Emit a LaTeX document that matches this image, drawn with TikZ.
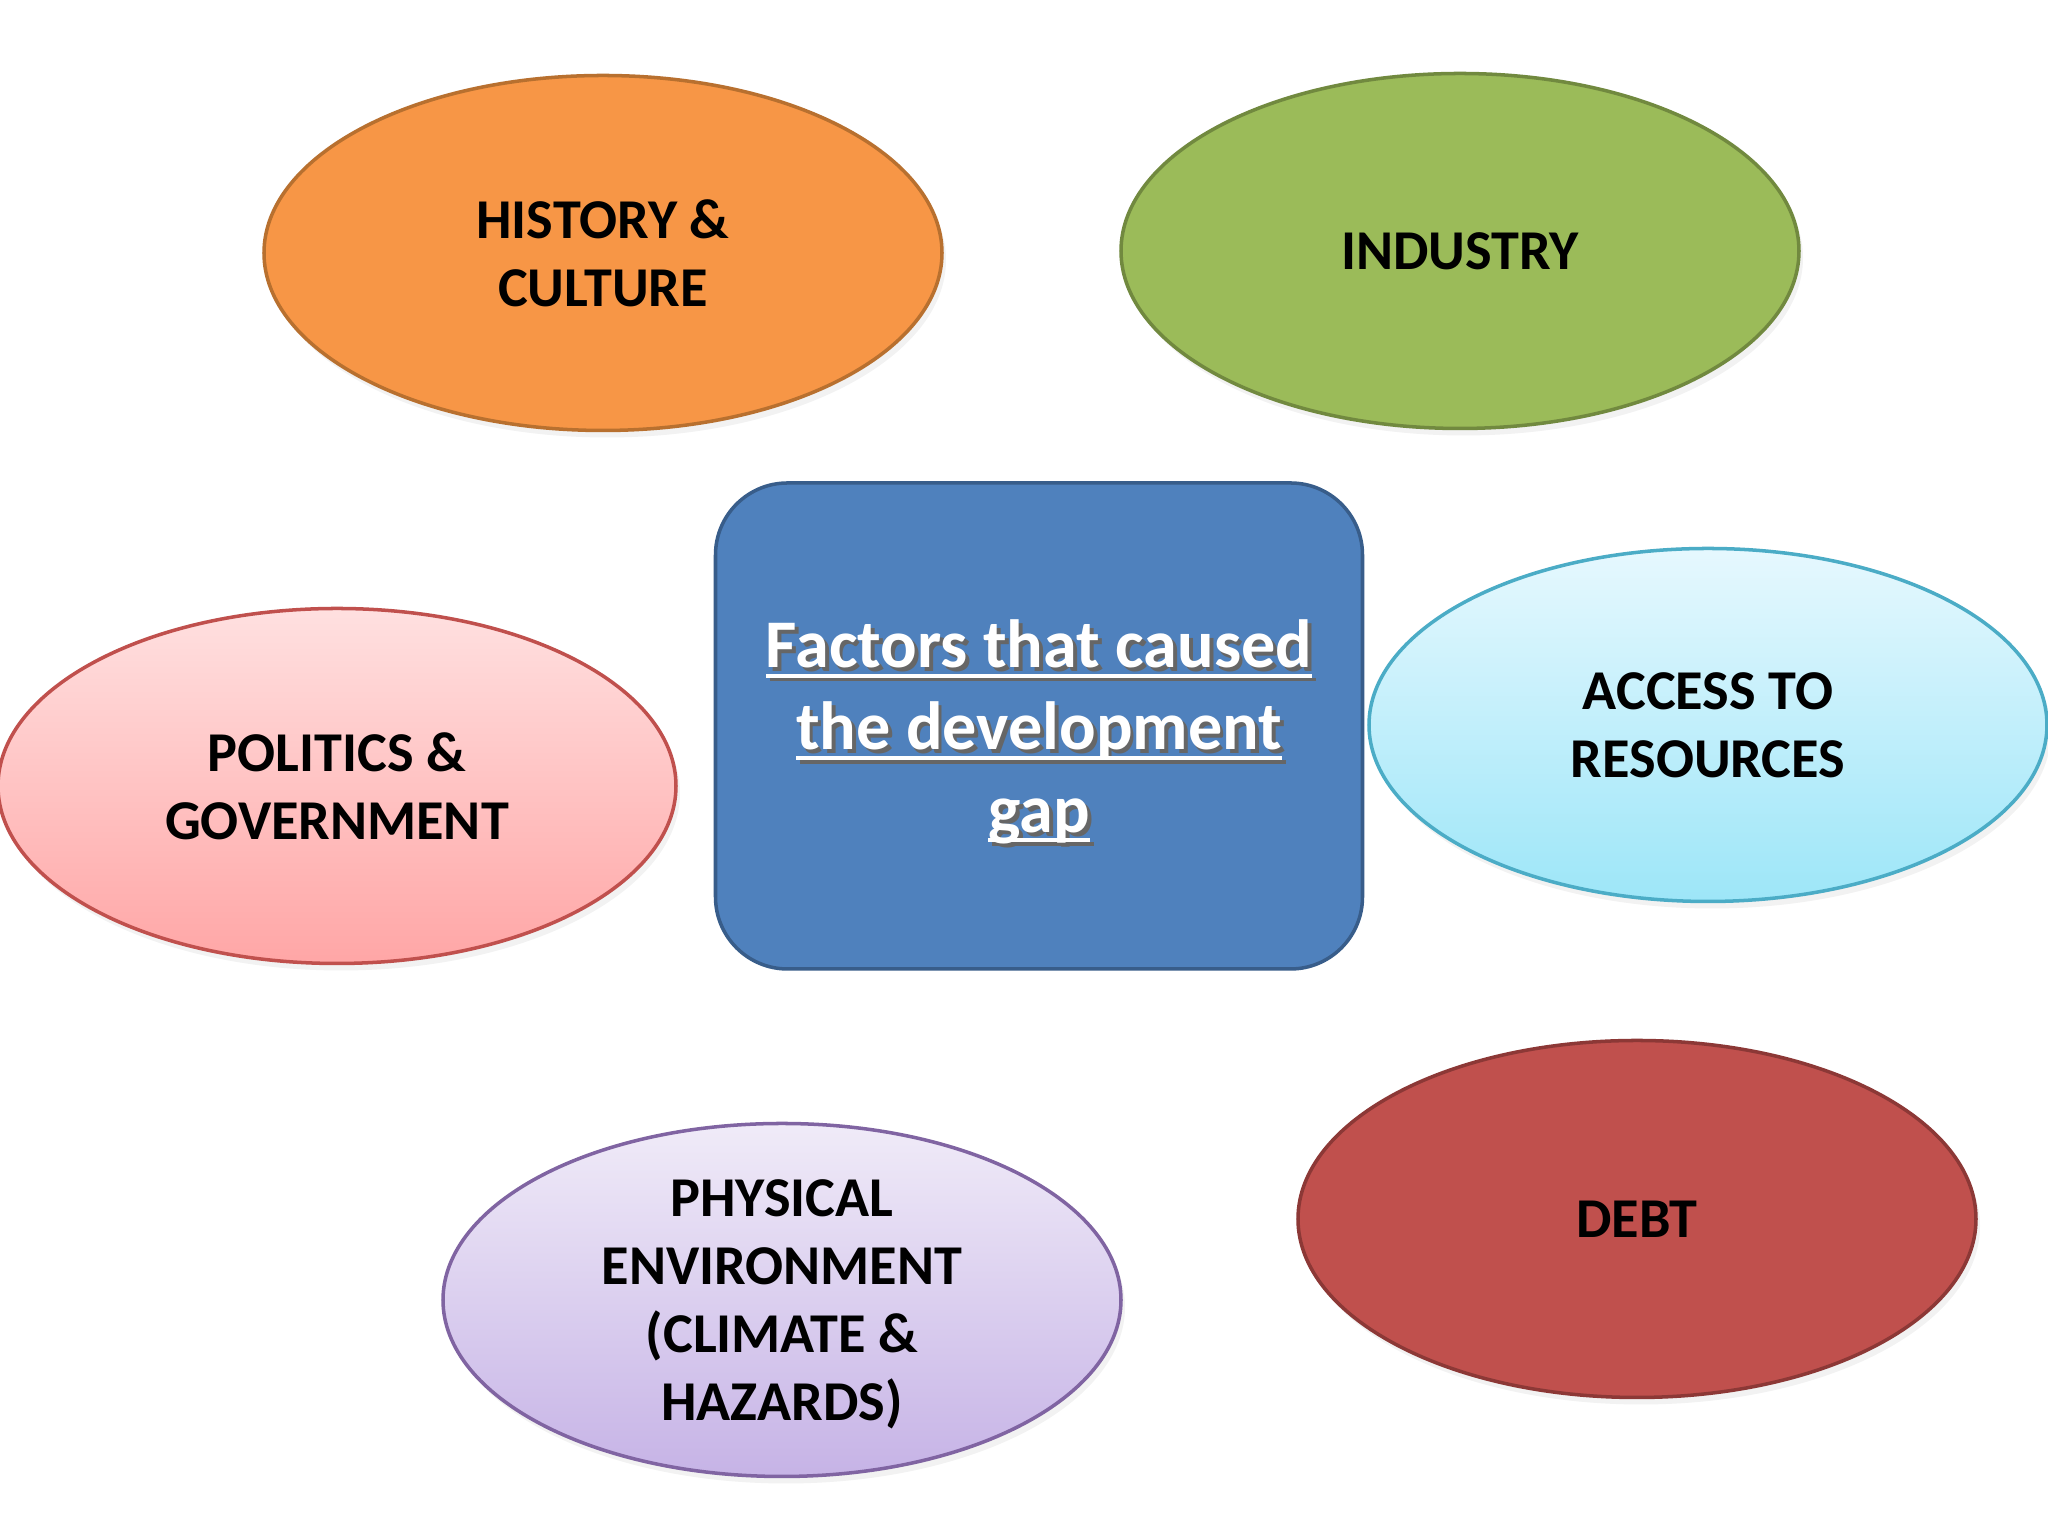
\documentclass[tikz,border=0pt]{standalone}
\usepackage{fontspec}
\setmainfont{Carlito}
\usepackage{tikz}
\usetikzlibrary{shapes.geometric,shadows}

\definecolor{histfill}{HTML}{F79646}
\definecolor{histline}{HTML}{B8702F}
\definecolor{indfill}{HTML}{9BBB59}
\definecolor{indline}{HTML}{71893F}
\definecolor{gapfill}{HTML}{4F81BD}
\definecolor{gapline}{HTML}{385D8A}
\definecolor{poltop}{HTML}{FFE0E0}
\definecolor{polbot}{HTML}{FFA6A6}
\definecolor{polline}{HTML}{C0504D}
\definecolor{restop}{HTML}{E6F8FE}
\definecolor{resbot}{HTML}{9DE6F8}
\definecolor{resline}{HTML}{4BACC6}
\definecolor{phystop}{HTML}{F0EBF8}
\definecolor{physbot}{HTML}{C6B3E6}
\definecolor{physline}{HTML}{8064A2}
\definecolor{debtfill}{HTML}{C0504D}
\definecolor{debtline}{HTML}{8C3836}

% underlined white line with a dark shadow
\newcommand{\ulword}[1]{\setbox0\hbox{#1}\rlap{\rule[-2.8pt]{\wd0}{1.1pt}}\box0}
\newcommand{\gapword}[1]{\rlap{\kern1.1pt\raisebox{-1.1pt}{\color{black!60}\ulword{#1}}}\ulword{#1}}

\begin{document}
\begin{tikzpicture}[
    every node/.style={font=\fontsize{16}{19.4}\selectfont\bfseries},
    factor/.style={ellipse, draw, line width=1pt, inner sep=0pt, align=center, text depth=0pt,
        minimum width=6.78cm, minimum height=3.55cm,
        drop shadow={opacity=0.10, shadow xshift=0.04cm, shadow yshift=-0.07cm}},
    centre/.style={rectangle, rounded corners=0.72cm, draw=gapline, fill=gapfill, line width=1pt,
        minimum width=6.47cm, minimum height=4.86cm, align=center, text=white, text depth=0pt,
        font=\fontsize{19.4}{23.4}\selectfont\bfseries}
]
    \useasboundingbox[fill=white] (0,0) rectangle (20.48,15.36);

    % Centre
    \node[centre] (gap) at (10.39,8.10)
        {\gapword{Factors that caused}\\\gapword{the development}\\\gapword{gap}};

    % Factors
    \node[factor, draw=histline, fill=histfill] (history) at (6.03,12.83) {HISTORY \&\\CULTURE};
    \node[factor, draw=indline, fill=indfill] (industry) at (14.60,12.85) {INDUSTRY};
    \node[factor, draw=polline, top color=poltop, bottom color=polbot] (politics) at (3.37,7.50) {POLITICS \&\\GOVERNMENT};
    \node[factor, draw=resline, top color=restop, bottom color=resbot, minimum height=3.53cm] (resources) at (17.08,8.11) {ACCESS TO\\RESOURCES};
    \node[factor, draw=physline, top color=phystop, bottom color=physbot, minimum height=3.53cm] (physical) at (7.82,2.36) {PHYSICAL\\ENVIRONMENT\\(CLIMATE \&\\HAZARDS)};
    \node[factor, draw=debtline, fill=debtfill, minimum height=3.57cm] (debt) at (16.37,3.17) {DEBT};

\end{tikzpicture}
\end{document}
